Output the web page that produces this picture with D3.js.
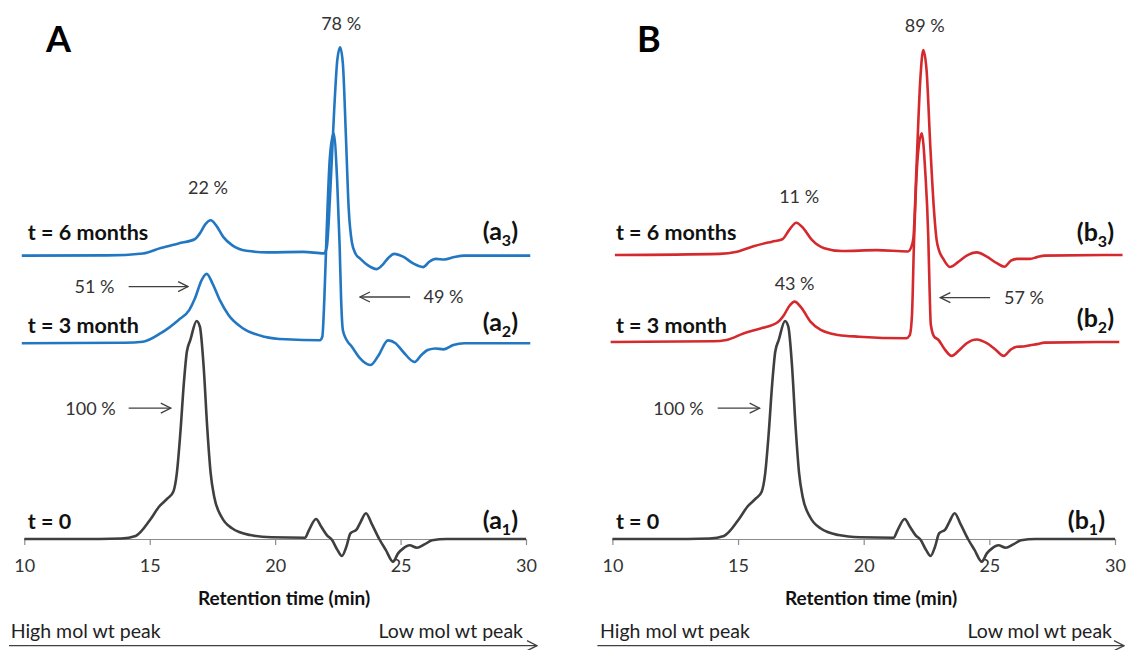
<!DOCTYPE html>
<html><head><meta charset="utf-8">
<script src="https://cdn.jsdelivr.net/npm/d3@7"></script>
<style>
body{margin:0;background:#fff}
svg{display:block;font-family:Lato,"Open Sans",sans-serif}
</style>
</head><body>
<svg id="chart" width="1127" height="650"></svg>
<script>
// ---------- data (retention time in min, detector signal in relative units) ----------
const tickValues = [10, 15, 20, 25, 30];

// t = 0 (same sample shown in both panels)
const traceT0 = [[10,0],[13.0,0],[13.87,0.2],[14.44,1.4],[15.01,8.7],[15.37,14.8],[15.72,18.7],[15.94,21.7],[16.08,30.1],[16.22,48.5],[16.36,71.4],[16.48,85.9],[16.62,91.3],[16.87,100],[17.0,97.4],[17.15,79],[17.29,51.5],[17.43,30.1],[17.57,19.4],[17.86,10.2],[18.28,4.9],[19.0,1.8],[19.85,0.8],[21.19,0.6],[21.35,4.1],[21.63,9.2],[21.84,5.6],[22.06,1.8],[22.27,-0.5],[22.48,-5],[22.66,-7.8],[22.84,-3.5],[23.0,2.6],[23.25,4.4],[23.41,7.9],[23.62,11.8],[23.84,7.2],[24.15,0],[24.41,-5],[24.7,-10.4],[24.9,-6.6],[25.11,-4.3],[25.36,-2.9],[25.65,-4],[25.95,-2.5],[26.26,-0.6],[26.84,0],[30,0]];

// Panel A, t = 3 months (a2) and t = 6 months (a3), relative to their own baselines
const traceA3mo = [[9.9,0],[14.0,0.2],[14.73,0.7],[15.44,4.6],[16.15,10.7],[16.58,15.3],[16.8,20.5],[17.07,29],[17.27,31.8],[17.5,27.5],[17.79,19.9],[18.14,13],[18.71,6.9],[19.57,3.0],[20.42,1.8],[21.78,1.4],[21.88,3],[21.96,20],[22.05,50],[22.18,85],[22.33,96.3],[22.47,75],[22.57,45],[22.63,20],[22.7,6],[22.85,1.5],[23.05,-1.5],[23.35,-6.5],[23.8,-10],[24.1,-6],[24.5,1.3],[24.8,0],[25.1,-3.9],[25.56,-8.6],[25.83,-5.4],[26.08,-3.1],[26.4,-2.4],[26.7,-2.8],[27.1,-0.8],[27.54,0],[30.17,0]];
const traceA6mo = [[9.9,0],[13.3,0.1],[14.73,1.0],[15.44,3.5],[16.15,5.6],[16.79,7.5],[17.0,10.2],[17.22,14.4],[17.43,16.2],[17.64,14],[17.93,8.6],[18.28,4.8],[18.85,2.2],[19.71,1.5],[21.13,1.7],[21.95,1.0],[22.06,4],[22.2,30],[22.35,66],[22.48,90],[22.59,95.5],[22.7,88],[22.82,55],[22.93,22],[23.06,6],[23.2,1],[23.4,-1.5],[23.7,-4.5],[24.05,-6.2],[24.3,-4],[24.5,-1.2],[24.75,0.8],[25.1,-0.5],[25.5,-3.6],[25.9,-5.3],[26.15,-2.8],[26.4,-1.5],[26.75,-1.8],[27.11,-0.8],[27.54,0],[30.17,0]];

// Panel B, t = 3 months (b2) and t = 6 months (b3)
const traceB3mo = [[9.93,0],[14.0,0.3],[14.54,0.9],[15.24,4],[15.93,6.3],[16.56,8.9],[16.83,12.4],[17.04,16.5],[17.25,18.5],[17.53,15.5],[17.88,9.3],[18.29,5.5],[18.99,3.2],[19.82,2.4],[21.69,1.7],[21.83,3],[21.92,12],[22.0,45],[22.15,85],[22.31,95.7],[22.45,78],[22.57,48],[22.62,25],[22.67,8],[22.8,2.5],[22.97,1],[23.2,-3],[23.5,-6.4],[23.8,-3.8],[24.1,-0.6],[24.5,1.1],[24.9,-0.6],[25.25,-3.6],[25.57,-6.4],[25.85,-3.5],[26.09,-2.2],[26.35,-2.1],[26.62,-1.5],[26.9,-1.0],[27.2,-0.3],[30.17,0]];
const traceB6mo = [[10.1,0],[14.26,0.5],[14.96,1.5],[15.65,4.1],[16.35,6.1],[16.76,7.2],[17.04,11.5],[17.32,14.8],[17.6,12.2],[17.94,6.9],[18.43,3.1],[19.13,1.8],[20.51,2.2],[21.76,1.6],[21.9,3.8],[21.98,8],[22.1,40],[22.25,80],[22.37,94],[22.5,85],[22.65,50],[22.8,20],[22.9,7],[23.0,2],[23.15,-1.5],[23.43,-5.5],[23.75,-3.3],[24.1,-0.3],[24.5,1.2],[24.9,-0.8],[25.3,-3.8],[25.6,-5.4],[25.86,-2.6],[26.1,-1.8],[26.4,-1.8],[26.62,-1.8],[26.9,-1.0],[27.2,-0.3],[30.3,0]];

// vertical stacking offsets of the traces (t0, 3 months, 6 months)
const offsetsA = [0, 89.8, 130];
const offsetsB = [0, 90.4, 130.3];

const timeLabels = ["t = 0", "t = 3 month", "t = 6 months"];
const percentA = ["100 %", "51 %", "49 %", "22 %", "78 %"];
const percentB = ["100 %", "43 %", "57 %", "11 %", "89 %"];

// ---------- drawing ----------
const svg = d3.select("#chart");
const y = d3.scaleLinear().domain([0, 100]).range([539, 321]);

const defs = svg.append("defs");
defs.append("marker").attr("id","arr").attr("viewBox","0 0 12 12")
  .attr("refX",11).attr("refY",6).attr("markerWidth",12).attr("markerHeight",12)
  .attr("markerUnits","userSpaceOnUse").attr("orient","auto")
  .append("path").attr("d","M1,1 L11,6 L1,11").attr("fill","none")
  .attr("stroke","#404040").attr("stroke-width",1.3);

const panels = [
  { letter:"A", sub:"a", range:[24.3,526], s3:traceA3mo, s6:traceA6mo, off:offsetsA, color:"#2277c2", pct:percentA,
    tagEnd:[518,518,518], tagY:[520,322.5,231.7], titleX:284, highX:10.7, lowEnd:523, arrowX:[9,537], letterX:46,
    ann:{ p100:[12.64,14.16,15.84,60], pA:[12.8,14.16,16.53,115.8], pB:[26.71,25.38,23.38,111], pSmall:[17.32,161.1], pBig:[22.63,236.2] } },
  { letter:"B", sub:"b", range:[612.4,1115], s3:traceB3mo, s6:traceB6mo, off:offsetsB, color:"#d42a2e", pct:percentB,
    tagEnd:[1105,1114,1114], tagY:[520,318.3,232.3], titleX:871, highX:600, lowEnd:1112, arrowX:[597.4,1124], letterX:637,
    ann:{ p100:[12.63,14.19,15.86,60], pA:[17.25,null,null,117], pB:[26.38,25.03,23.05,110.7], pSmall:[17.43,157], pBig:[22.43,235.3] } }
];

panels.forEach(p => {
  const x = d3.scaleLinear().domain([10, 30]).range(p.range);
  const g = svg.append("g");

  // axis
  const ax = g.append("g").attr("transform", `translate(0,${y(0)})`)
    .call(d3.axisBottom(x).tickValues(tickValues).tickSize(6).tickSizeOuter(0).tickPadding(14));
  ax.select(".domain").attr("stroke","#8c8c8c").attr("stroke-width",1.2);
  ax.selectAll(".tick line").attr("stroke","#8c8c8c").attr("stroke-width",1.2);
  ax.selectAll(".tick text").attr("font-family","Lato").attr("font-size",18).attr("fill","#333");

  const line = off => d3.line().x(d => x(d[0])).y(d => y(d[1] + off)).curve(d3.curveMonotoneX);
  const series = [
    {data: traceT0, off: p.off[0], color: "#3f3f3f"},
    {data: p.s3, off: p.off[1], color: p.color},
    {data: p.s6, off: p.off[2], color: p.color}
  ];
  g.selectAll("path.trace").data(series).join("path").attr("class","trace")
    .attr("d", s => line(s.off)(s.data)).attr("fill","none")
    .attr("stroke", s => s.color).attr("stroke-width", 2.6).attr("stroke-linejoin","round");

  // panel letter
  g.append("text").attr("x", p.letterX).attr("y", 51.5).attr("font-size", 36)
    .attr("font-weight", 700).attr("fill", "#000").text(p.letter);

  // time labels
  const labY = [521.7, 325, 232.3];
  timeLabels.forEach((t, i) => {
    g.append("text").attr("x", x(10) + 3.5).attr("y", labY[i]).attr("dy","0.35em")
      .attr("font-size", 21.5).attr("font-weight", 700).attr("fill","#111").text(t);
  });

  // (a1)… tags
  [1,2,3].forEach((n, i) => {
    const t = g.append("text").attr("x", p.tagEnd[i]).attr("y", p.tagY[i]).attr("dy","0.35em")
      .attr("text-anchor","end").attr("font-size", 25).attr("font-weight", 700).attr("fill","#111");
    t.append("tspan").text("(" + p.sub);
    t.append("tspan").attr("font-size", 16).attr("dy", 6).text(n);
    t.append("tspan").attr("dy", -6).text(")");
  });

  // percentage annotations
  const pctText = (tx, ty, s) => g.append("text").attr("x", tx).attr("y", ty).attr("dy","0.35em")
      .attr("text-anchor","middle").attr("font-size", 18).attr("fill","#333").text(s);
  const arrow = (xa, xb, yy) => g.append("line").attr("x1", x(xa)).attr("x2", x(xb))
      .attr("y1", y(yy)).attr("y2", y(yy)).attr("stroke","#404040").attr("stroke-width",1.3)
      .attr("marker-end","url(#arr)");
  const a = p.ann;
  pctText(x(a.p100[0]), y(a.p100[3]), p.pct[0]); arrow(a.p100[1], a.p100[2], a.p100[3]);
  pctText(x(a.pA[0]), y(a.pA[3]), p.pct[1]); if (a.pA[1] !== null) arrow(a.pA[1], a.pA[2], a.pA[3]);
  pctText(x(a.pB[0]), y(a.pB[3]), p.pct[2]); arrow(a.pB[1], a.pB[2], a.pB[3]);
  pctText(x(a.pSmall[0]), y(a.pSmall[1]), p.pct[3]);
  pctText(x(a.pBig[0]), y(a.pBig[1]), p.pct[4]);

  // axis title
  g.append("text").attr("x", p.titleX).attr("y", 598.3).attr("dy","0.35em").attr("text-anchor","middle")
    .attr("font-size", 19).attr("font-weight", 700).attr("fill","#111").text("Retention time (min)");

  // molecular weight direction
  g.append("text").attr("x", p.highX).attr("y", 631.5).attr("dy","0.35em").attr("font-size", 19.5)
    .attr("fill","#222").text("High mol wt peak");
  g.append("text").attr("x", p.lowEnd).attr("y", 631.5).attr("dy","0.35em").attr("text-anchor","end")
    .attr("font-size", 19.5).attr("fill","#222").text("Low mol wt peak");
  g.append("line").attr("x1", p.arrowX[0]).attr("x2", p.arrowX[1]).attr("y1", 645.7).attr("y2", 645.7)
    .attr("stroke","#404040").attr("stroke-width",1.3).attr("marker-end","url(#arr)");
});
</script>
</body></html>
